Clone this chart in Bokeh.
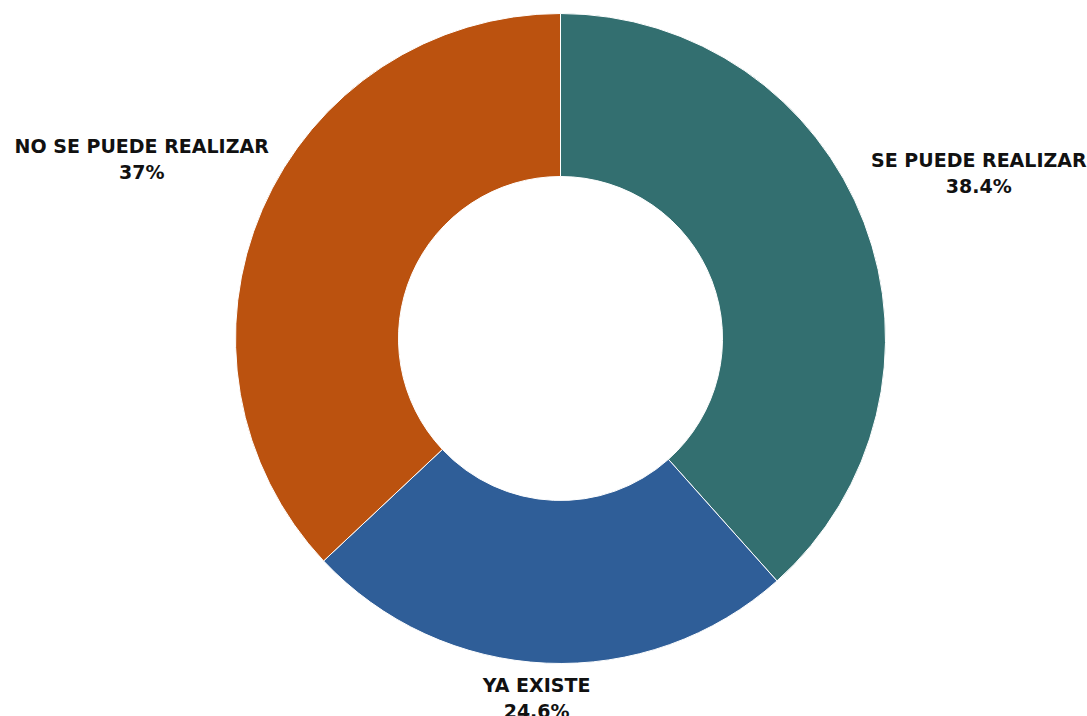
import math
from bokeh.plotting import figure
from bokeh.models import ColumnDataSource, Range1d
from bokeh.core.properties import value
from bokeh.embed import file_html
from bokeh.resources import INLINE

categories = ["SE PUEDE REALIZAR", "YA EXISTE", "NO SE PUEDE REALIZAR"]
percents = [38.4, 24.6, 37.0]
pct_labels = ["38.4%", "24.6%", "37%"]
colors = ["#336f70", "#2f5e98", "#bb520f"]

W, H = 1087, 716
cx, cy = 560, 378
r_out, r_in = 325, 162

total = sum(percents)
starts, ends, mids = [], [], []
cum = 0.0
for v in percents:
    s = math.pi / 2 - 2 * math.pi * cum / total
    cum += v
    e = math.pi / 2 - 2 * math.pi * cum / total
    starts.append(s)
    ends.append(e)
    mids.append((s + e) / 2)

src = ColumnDataSource(dict(start=starts, end=ends, color=colors))

p = figure(width=W, height=H, x_range=Range1d(0, W), y_range=Range1d(0, H),
           output_backend="svg", toolbar_location=None, min_border=0)
p.axis.visible = False
p.grid.visible = False
p.outline_line_color = None
p.background_fill_color = "white"

p.annular_wedge(x=cx, y=cy, inner_radius=r_in, outer_radius=r_out,
                start_angle="start", end_angle="end", direction="clock",
                fill_color="color", line_color="white", line_width=1, source=src)

lx, ly1, ly2 = [], [], []
for a in mids:
    c, s = math.cos(a), math.sin(a)
    x = cx - 4 + 452 * c
    y = cy + r_out * s + (50 if s > 0 else -35)
    lx.append(x)
    ly1.append(y + 13)
    ly2.append(y - 13)

lsrc = ColumnDataSource(dict(x=lx, y1=ly1, y2=ly2, name=categories, pct=pct_labels))
font = value("DejaVu Sans")
for col, yk in (("name", "y1"), ("pct", "y2")):
    p.text(x="x", y=yk, text=col, source=lsrc, text_align="center",
           text_baseline="middle", text_font=font, text_font_style="bold",
           text_font_size="19px", text_color="#111111")

open("out.html", "w").write(file_html(p, INLINE))
